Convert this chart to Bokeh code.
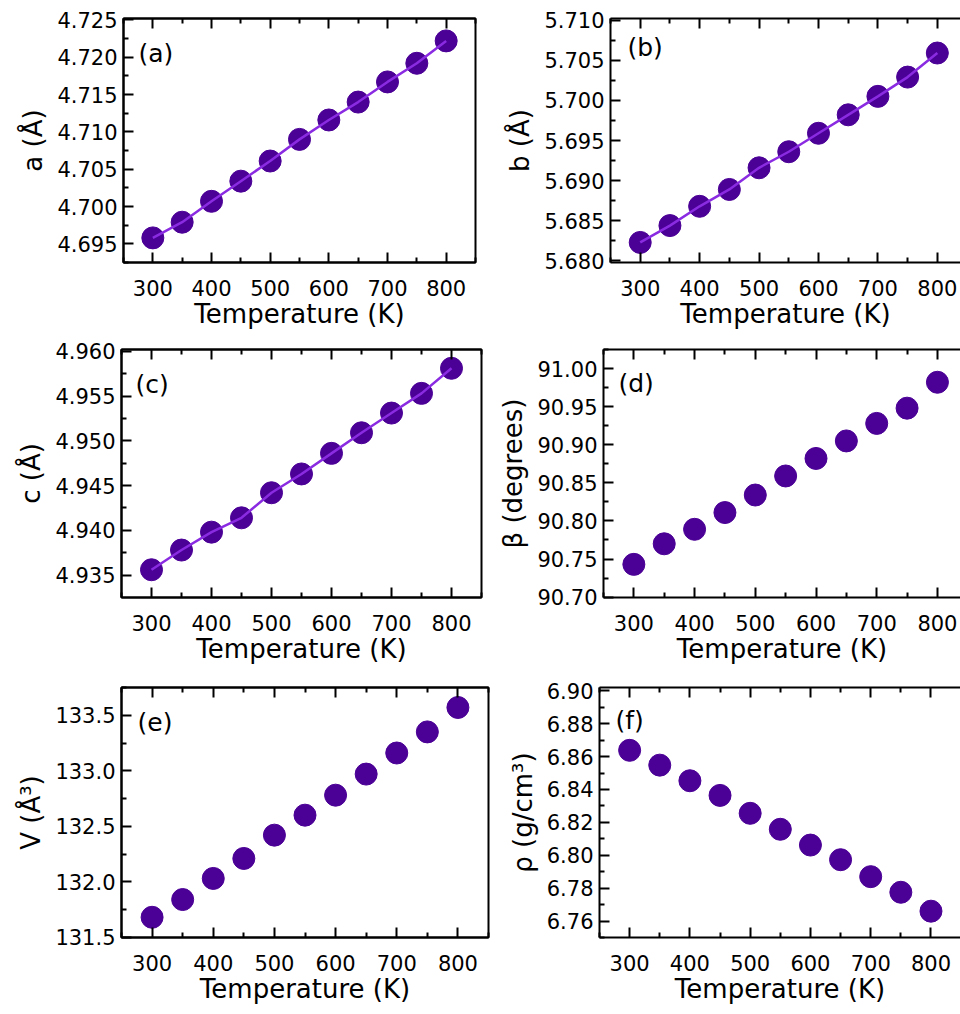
from bokeh.plotting import figure
from bokeh.models import FixedTicker, PrintfTickFormatter, LinearAxis, Range1d, Label
from bokeh.layouts import column, row
from bokeh.embed import file_html
from bokeh.resources import INLINE

# ---------------- data ----------------
temperature = [300, 350, 400, 450, 500, 550, 600, 650, 700, 750, 800]
a_vals = [4.6958, 4.6979, 4.7007, 4.7034, 4.7061, 4.7090, 4.7116, 4.7140, 4.7167, 4.7192, 4.7222]
b_vals = [5.6823, 5.6844, 5.6868, 5.6889, 5.6916, 5.6936, 5.6959, 5.6982, 5.7005, 5.7029, 5.7059]
c_vals = [4.9356, 4.9378, 4.9398, 4.9414, 4.9442, 4.9463, 4.9486, 4.9509, 4.9531, 4.9553, 4.9581]
beta_vals = [90.743, 90.770, 90.789, 90.811, 90.834, 90.859, 90.882, 90.905, 90.928, 90.948, 90.982]
v_vals = [131.68, 131.84, 132.03, 132.21, 132.42, 132.60, 132.78, 132.97, 133.16, 133.35, 133.57]
rho_vals = [6.8638, 6.8548, 6.8453, 6.8364, 6.8255, 6.8158, 6.8062, 6.7973, 6.7870, 6.7775, 6.7660]

x_ticks = [300, 400, 500, 600, 700, 800]
a_ticks = [4.695, 4.700, 4.705, 4.710, 4.715, 4.720, 4.725]
b_ticks = [5.680, 5.685, 5.690, 5.695, 5.700, 5.705, 5.710]
c_ticks = [4.935, 4.940, 4.945, 4.950, 4.955, 4.960]
beta_ticks = [90.70, 90.75, 90.80, 90.85, 90.90, 90.95, 91.00]
v_ticks = [131.5, 132.0, 132.5, 133.0, 133.5]
rho_ticks = [6.76, 6.78, 6.80, 6.82, 6.84, 6.86, 6.88, 6.90]

FONT = "DejaVu Sans"
DOT = "#4b0096"
LINE = "#8a2be2"


def minors(ticks):
    step = ticks[1] - ticks[0]
    out = [t - step / 2 for t in ticks]
    out.append(ticks[-1] + step / 2)
    return out


def style_axis(ax, show_labels=True):
    ax.axis_line_width = 2
    ax.axis_line_color = "black"
    ax.major_tick_in = 10
    ax.major_tick_out = 0
    ax.minor_tick_in = 5
    ax.minor_tick_out = 0
    ax.major_tick_line_width = 2
    ax.minor_tick_line_width = 2
    ax.major_tick_line_color = "black"
    ax.minor_tick_line_color = "black"
    ax.major_label_text_font = FONT
    ax.axis_label_text_font = FONT
    ax.axis_label_text_font_size = "26px"
    ax.axis_label_text_font_style = "normal"
    ax.axis_label_text_color = "black"
    if show_labels:
        ax.major_label_text_font_size = "21px"
        ax.major_label_text_color = "black"
    else:
        ax.major_label_text_font_size = "1px"
        ax.major_label_text_color = None
        ax.major_label_standoff = 0


def panel(yvals, ylabel, letter, yr, yticks, fmt, w, h, ml, mr, mt, mb, xend,
          ldx, ldy, right_border, with_line):
    p = figure(width=w, height=h, x_range=Range1d(250, xend), y_range=Range1d(*yr),
               output_backend="svg", toolbar_location=None,
               min_border_left=ml, min_border_right=mr,
               min_border_top=mt, min_border_bottom=mb)
    p.grid.visible = False
    p.outline_line_color = "black" if right_border else None
    p.outline_line_width = 2
    p.outline_line_alpha = 1

    xticker = FixedTicker(ticks=x_ticks, minor_ticks=minors(x_ticks))
    yticker = FixedTicker(ticks=yticks, minor_ticks=minors(yticks))

    xa = p.xaxis[0]
    xa.ticker = xticker
    xa.axis_label = "Temperature (K)"
    style_axis(xa)
    xa.major_label_standoff = 17
    xa.axis_label_standoff = 0

    ya = p.yaxis[0]
    ya.ticker = yticker
    ya.formatter = PrintfTickFormatter(format=fmt)
    ya.axis_label = ylabel
    style_axis(ya)
    ya.major_label_standoff = 6
    ya.axis_label_standoff = 6

    top = LinearAxis(ticker=xticker)
    style_axis(top, show_labels=False)
    p.add_layout(top, "above")

    p.scatter(temperature, yvals, marker="circle", size=22, fill_color=DOT, line_color=DOT)
    if with_line:
        p.line(temperature, yvals, line_color=LINE, line_width=2.5)

    # panel letter, placed by pixel offset from the frame's top-left corner
    fw = w - ml - mr
    fh = h - mt - mb
    lx = 250 + ldx * (xend - 250) / fw
    ly = yr[1] - ldy * (yr[1] - yr[0]) / fh
    p.add_layout(Label(x=lx, y=ly, text=letter, text_font=FONT, text_font_size="25px",
                       text_color="black", text_baseline="middle", text_align="left"))
    return p


pa = panel(a_vals, "a (Å)", "(a)", (4.6925, 4.7252), a_ticks, "%.3f",
           490, 338, 123, 15, 17, 74, 850, 15, 35, True, True)
pb = panel(b_vals, "b (Å)", "(b)", (5.6798, 5.7102), b_ticks, "%.3f",
           470, 338, 120, 0, 18, 76, 839, 17, 29, False, True)
pc = panel(c_vals, "c (Å)", "(c)", (4.9325, 4.9602), c_ticks, "%.3f",
           490, 334, 121, 9, 9, 74, 850, 14, 35, True, True)
pd = panel(beta_vals, "β (degrees)", "(d)", (90.6995, 91.025), beta_ticks, "%.2f",
           470, 334, 113, 0, 11, 75, 838, 15, 34, False, False)
pe = panel(v_vals, "V (Å³)", "(e)", (131.498, 133.75), v_ticks, "%.1f",
           490, 342, 121, 2, 15, 76, 850, 16, 35, True, False)
pf = panel(rho_vals, "ρ (g/cm³)", "(f)", (6.75, 6.902), rho_ticks, "%.2f",
           470, 342, 109, 0, 12, 77, 849, 16, 33, False, False)

layout = column(row(pa, pb), row(pc, pd), row(pe, pf))
open("out.html", "w").write(file_html(layout, INLINE))
